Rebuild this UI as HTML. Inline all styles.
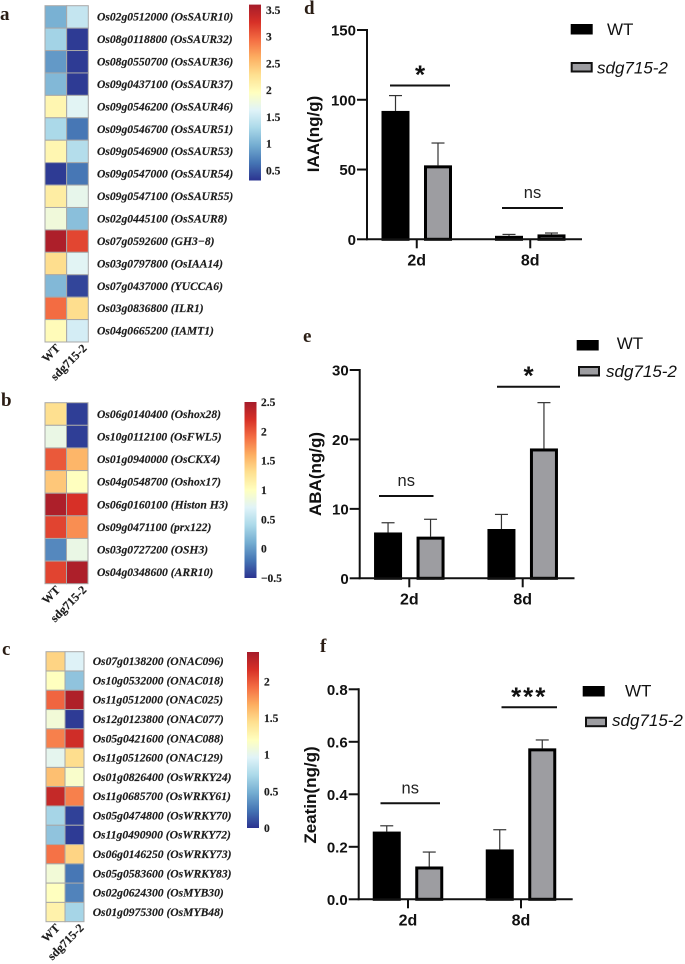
<!DOCTYPE html>
<html lang="en">
<head>
<meta charset="utf-8">
<title>Heatmaps and hormone content bar charts</title>
<style>
html,body{margin:0;padding:0;background:#fff;width:685px;height:964px;overflow:hidden}
svg{display:block;filter:blur(0.3px)}
.gene{font:italic bold 11.6px "Liberation Serif",serif;fill:#1c1c1c;stroke:#1c1c1c;stroke-width:0.15px}
.cbt{font:bold 11.5px "Liberation Serif",serif;fill:#1c1c1c;stroke:#1c1c1c;stroke-width:0.15px}
.rot{font:bold 12px "Liberation Serif",serif;fill:#1c1c1c;stroke:#1c1c1c;stroke-width:0.15px}
.panel{font:bold 19px "Liberation Serif",serif;fill:#2a1d14}
.tick{font:bold 15px "Liberation Sans",sans-serif;fill:#111}
.xtick{font:bold 16px "Liberation Sans",sans-serif;fill:#111}
.title{font:bold 17px "Liberation Sans",sans-serif;fill:#111}
.leg{font:17px "Liberation Sans",sans-serif;fill:#111}
.legi{font:italic 17px "Liberation Sans",sans-serif;fill:#111}
.sig{font:16.5px "Liberation Sans",sans-serif;fill:#222}
.star{font:bold 26px "Liberation Sans",sans-serif;fill:#111}
</style>
</head>
<body>
<svg id="fig" xmlns="http://www.w3.org/2000/svg" width="685" height="964" viewBox="0 0 685 964">
  <rect width="685" height="964" fill="#fff"/>
  <text class="panel" x="0" y="20">a</text>
  <text class="panel" x="1" y="406">b</text>
  <text class="panel" x="2" y="655">c</text>
  <text class="panel" x="304" y="14">d</text>
  <text class="panel" x="303" y="342">e</text>
  <text class="panel" x="320" y="652">f</text>
</svg>
<script>
// ---------- Heatmap data ----------
var heatColumns = ['WT', 'sdg715-2'];

var genesA = ['Os02g0512000 (OsSAUR10)','Os08g0118800 (OsSAUR32)','Os08g0550700 (OsSAUR36)','Os09g0437100 (OsSAUR37)','Os09g0546200 (OsSAUR46)','Os09g0546700 (OsSAUR51)','Os09g0546900 (OsSAUR53)','Os09g0547000 (OsSAUR54)','Os09g0547100 (OsSAUR55)','Os02g0445100 (OsSAUR8)','Os07g0592600 (GH3\u22128)','Os03g0797800 (OsIAA14)','Os07g0437000 (YUCCA6)','Os03g0836800 (ILR1)','Os04g0665200 (IAMT1)'];
var heatAWT = [1.0,1.25,0.85,1.05,2.05,1.3,2.05,0.35,2.15,1.8,3.55,2.3,1.05,2.95,2.0];
var heatASdg = [1.45,0.35,0.35,0.35,1.65,0.65,1.35,0.65,1.7,1.1,3.15,1.65,0.4,2.3,1.55];
var heatATicks = [0.5,1,1.5,2,2.5,3,3.5];

var genesB = ['Os06g0140400 (Oshox28)','Os10g0112100 (OsFWL5)','Os01g0940000 (OsCKX4)','Os04g0548700 (Oshox17)','Os06g0160100 (Histon H3)','Os09g0471100 (prx122)','Os03g0727200 (OSH3)','Os04g0348600 (ARR10)'];
var heatBWT = [1.3,0.8,2.0,1.45,2.45,2.1,-0.1,2.1];
var heatBSdg = [-0.45,-0.45,1.55,1.0,2.2,1.75,0.8,2.45];
var heatBTicks = [-0.5,0,0.5,1,1.5,2,2.5];

var genesC = ['Os07g0138200 (ONAC096)','Os10g0532000 (ONAC018)','Os11g0512000 (ONAC025)','Os12g0123800 (ONAC077)','Os05g0421600 (ONAC088)','Os11g0512600 (ONAC129)','Os01g0826400 (OsWRKY24)','Os11g0685700 (OsWRKY61)','Os05g0474800 (OsWRKY70)','Os11g0490900 (OsWRKY72)','Os06g0146250 (OsWRKY73)','Os05g0583600 (OsWRKY83)','Os02g0624300 (OsMYB30)','Os01g0975300 (OsMYB48)'];
var heatCWT = [1.5,1.2,1.95,1.1,1.85,1.0,1.6,2.25,0.7,0.6,1.9,1.1,1.2,1.3];
var heatCSdg = [0.95,0.6,2.35,0.03,2.2,1.45,1.15,1.85,0.05,0.03,1.5,0.25,0.3,0.7];
var heatCTicks = [0,0.5,1,1.5,2];

// ---------- Bar chart data ----------
var barGroups = ['2d', '8d'];

var iaaWT = [92, 2.5];
var iaaSdg = [53, 3.5];
var iaaWTErr = [11, 1];
var iaaSdgErr = [16, 1];
var iaaTicks = [0, 50, 100, 150];
var iaaTickLabels = ['0', '50', '100', '150'];

var abaWT = [6.6, 7.1];
var abaSdg = [6.0, 18.7];
var abaWTErr = [1.4, 2.1];
var abaSdgErr = [2.5, 6.6];
var abaTicks = [0, 10, 20, 30];
var abaTickLabels = ['0', '10', '20', '30'];

var zeaWT = [0.258, 0.19];
var zeaSdg = [0.125, 0.575];
var zeaWTErr = [0.022, 0.075];
var zeaSdgErr = [0.055, 0.032];
var zeaTicks = [0, 0.2, 0.4, 0.6, 0.8];
var zeaTickLabels = ['0.0', '0.2', '0.4', '0.6', '0.8'];

// ---------- Drawing ----------
var NS = 'http://www.w3.org/2000/svg';
var fig = document.getElementById('fig');
var ramp = ['#2b3390','#4575b4','#74add1','#abd9e9','#e0f3f8','#ffffbf','#fee090','#fdae61','#f46d43','#d73027','#a51c2a'];

function hexRgb(h){
  return [parseInt(h.substr(1,2),16),parseInt(h.substr(3,2),16),parseInt(h.substr(5,2),16)];
}
function rampColor(t){
  t = Math.max(0, Math.min(1, t));
  var p = t * (ramp.length - 1);
  var i = Math.min(Math.floor(p), ramp.length - 2);
  var f = p - i;
  var a = hexRgb(ramp[i]);
  var b = hexRgb(ramp[i + 1]);
  return 'rgb(' + Math.round(a[0]+(b[0]-a[0])*f) + ',' + Math.round(a[1]+(b[1]-a[1])*f) + ',' + Math.round(a[2]+(b[2]-a[2])*f) + ')';
}
function make(tag, attrs, parent, txt){
  var el = document.createElementNS(NS, tag);
  for (var k in attrs) el.setAttribute(k, attrs[k]);
  if (txt !== undefined) el.textContent = txt;
  parent.appendChild(el);
  return el;
}
var defs = make('defs', {}, fig);

function drawHeatmap(key, genes, wt, sdg, ticks, f){
  var g = make('g', {}, fig);
  
  
  var rowH = (f.bottom - f.top) / genes.length;
  var colW = (f.right - f.left) / heatColumns.length;
  var colorOf = function(v){ return rampColor((v - f.min) / (f.max - f.min)); };
  var rows = [wt, sdg];
  for (var c = 0; c < rows.length; c++) {
    for (var r = 0; r < genes.length; r++) {
      var cell = make('rect', {x: f.left + c * colW, y: f.top + r * rowH, width: colW, height: rowH, fill: colorOf(rows[c][r]), stroke: '#a8a8a8', 'stroke-width': 1}, g);
      
      
    }
  }
  genes.forEach(function(name, r){
    var label = make('text', {'class': 'gene', x: f.labelX, y: f.top + (r + 0.5) * rowH + 3.8}, g, name);
    
    
  });
  heatColumns.forEach(function(name, c){
    var px = f.left + (c + 0.5) * colW + (c === 0 ? 5 : 10);
    var py = f.bottom + 7;
    var label = make('text', {'class': 'rot', x: px, y: py, 'text-anchor': 'end', transform: 'rotate(-45 ' + px + ' ' + py + ')'}, g, name);
    
    
  });
  var grad = make('linearGradient', {id: 'grad' + key, x1: 0, y1: 1, x2: 0, y2: 0}, defs);
  ramp.forEach(function(col, i){
    make('stop', {offset: i / (ramp.length - 1), 'stop-color': col}, grad);
  });
  var bar = make('rect', {x: f.cbX, y: f.cbTop, width: 12, height: f.cbBottom - f.cbTop, fill: 'url(#grad' + key + ')'}, g);
  
  
  var cbY = function(v){ return f.cbBottom - (v - f.min) / (f.max - f.min) * (f.cbBottom - f.cbTop); };
  ticks.forEach(function(v){
    var label = make('text', {'class': 'cbt', x: f.cbLabelX, y: cbY(v) + 4}, g, String(v).replace('-', '\u2212'));
    
    
  });
}

function drawBars(key, title, wt, sdg, wtErr, sdgErr, ticks, tickLabels, sigs, f){
  var g = make('g', {}, fig);
  
  
  var yOf = function(v){ return f.y0 - v / f.vMax * (f.y0 - f.yTop); };
  var barW = 28;
  var off = 21.25;

  function bar(cx, v, err, fill, nm){
    var top = yOf(v);
    var errTop = yOf(v + err);
    var stem = make('line', {x1: cx, x2: cx, y1: top, y2: errTop, stroke: '#333', 'stroke-width': 1.2}, g);
    
    
    var cap = make('line', {x1: cx - 6.5, x2: cx + 6.5, y1: errTop, y2: errTop, stroke: '#333', 'stroke-width': 1.2}, g);
    
    
    var r = make('rect', {x: cx - barW / 2 + 1.5, y: top + 1.5, width: barW - 3, height: Math.max(0, f.y0 - top - 1.5), fill: fill, stroke: '#000', 'stroke-width': 3}, g);
    
    
  }
  barGroups.forEach(function(name, i){
    var cx = f.groupX[i];
    bar(cx - off, wt[i], wtErr[i], '#000', 'wt-' + name);
    bar(cx + off, sdg[i], sdgErr[i], '#9d9da1', 'sdg-' + name);
    var t = make('line', {x1: cx, x2: cx, y1: f.y0, y2: f.y0 + 9, stroke: '#111', 'stroke-width': 2}, g);
    
    
    var label = make('text', {'class': 'xtick', x: cx, y: f.y0 + 26, 'text-anchor': 'middle'}, g, name);
    
    
  });
  var yAxis = make('line', {x1: f.axisX, x2: f.axisX, y1: f.yTop - 1, y2: f.y0 + 1, stroke: '#111', 'stroke-width': 2}, g);
  
  
  var xAxis = make('line', {x1: f.axisX - 1, x2: f.xEnd, y1: f.y0, y2: f.y0, stroke: '#111', 'stroke-width': 2}, g);
  
  
  ticks.forEach(function(v, i){
    var t = make('line', {x1: f.axisX - 10, x2: f.axisX, y1: yOf(v), y2: yOf(v), stroke: '#111', 'stroke-width': 2}, g);
    
    
    var label = make('text', {'class': 'tick', x: f.axisX - 11, y: yOf(v) + 5.5, 'text-anchor': 'end'}, g, tickLabels[i]);
    
    
  });
  var yt = make('text', {'class': 'title', x: f.titleX, y: f.titleY, 'text-anchor': 'middle', transform: 'rotate(-90 ' + f.titleX + ' ' + f.titleY + ')'}, g, title);
  
  

  sigs.forEach(function(s){
    var line = make('line', {x1: s.x1, x2: s.x2, y1: s.y, y2: s.y, stroke: '#111', 'stroke-width': 2}, g);
    
    
    var isNs = s.text === 'ns';
    var mid = (s.x1 + s.x2) / 2;
    var label = make('text', {'class': isNs ? 'sig' : 'star', x: mid, y: isNs ? s.y - 10 : s.y - 2, 'text-anchor': 'middle'}, g, s.text);
    if (s.text === '***') label.setAttribute('letter-spacing', '2');
    
    
  });

  var lg = make('g', {}, g);
  
  
  var s1 = make('rect', {x: f.leg[0], y: f.leg[1], width: 22, height: 10.5, fill: '#000'}, lg);
  
  
  var t1 = make('text', {'class': 'leg', x: f.leg[2], y: f.leg[3]}, lg, 'WT');
  
  
  var s2 = make('rect', {x: f.leg[4] + 1, y: f.leg[5] + 1, width: 20, height: 8.5, fill: '#9d9da1', stroke: '#111', 'stroke-width': 2}, lg);
  
  
  var t2 = make('text', {'class': 'legi', x: f.leg[6], y: f.leg[7]}, lg, 'sdg715-2');
  
  
}

drawHeatmap('a', genesA, heatAWT, heatASdg, heatATicks, {left:45,right:88.3,top:5.7,bottom:342,labelX:97,min:0.31,max:3.6,cbX:249,cbTop:4.6,cbBottom:180.5,cbLabelX:266});
drawHeatmap('b', genesB, heatBWT, heatBSdg, heatBTicks, {left:45,right:88,top:402.7,bottom:583.7,labelX:97,min:-0.5,max:2.5,cbX:244.5,cbTop:402,cbBottom:578,cbLabelX:261});
drawHeatmap('c', genesC, heatCWT, heatCSdg, heatCTicks, {left:46,right:84,top:651.7,bottom:921.7,labelX:92.7,min:0,max:2.4,cbX:247,cbTop:652,cbBottom:828,cbLabelX:264});

drawBars('iaa', 'IAA(ng/g)', iaaWT, iaaSdg, iaaWTErr, iaaSdgErr, iaaTicks, iaaTickLabels,
  [{x1:390,x2:450,y:85.5,text:'*'},{x1:502,x2:563,y:208,text:'ns'}],
  {axisX:367,xEnd:582,y0:239.3,yTop:30,vMax:150,groupX:[416.75,530.25],titleX:319,titleY:134,leg:[570.7,24,607,35,570.7,62,597,73.5]});
drawBars('aba', 'ABA(ng/g)', abaWT, abaSdg, abaWTErr, abaSdgErr, abaTicks, abaTickLabels,
  [{x1:379,x2:433.5,y:496,text:'ns'},{x1:497,x2:560,y:386.7,text:'*'}],
  {axisX:359.7,xEnd:574.5,y0:578.3,yTop:370,vMax:30,groupX:[409.3,522.7],titleX:321,titleY:474,leg:[576.7,340,616.7,349,578,366,606,377]});
drawBars('zeatin', 'Zeatin(ng/g)', zeaWT, zeaSdg, zeaWTErr, zeaSdgErr, zeaTicks, zeaTickLabels,
  [{x1:380.5,x2:440,y:803.3,text:'ns'},{x1:501.5,x2:557,y:707.3,text:'***'}],
  {axisX:358.7,xEnd:572.7,y0:899.3,yTop:689.3,vMax:0.8,groupX:[408,521],titleX:316,titleY:795,leg:[582.7,686,625,696.7,585,716.7,612,726]});
</script>
</body>
</html>
